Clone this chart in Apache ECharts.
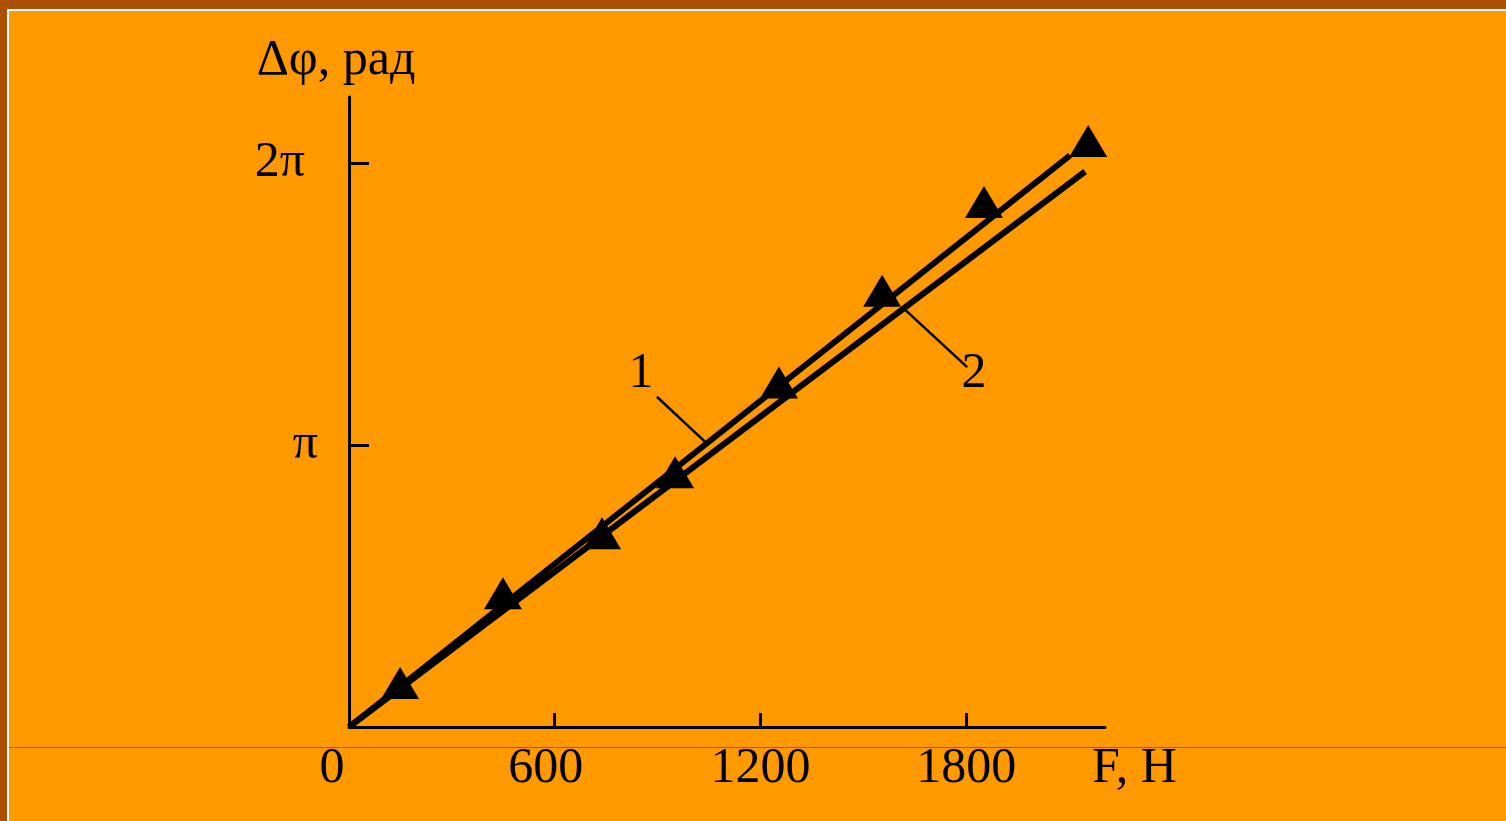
<!DOCTYPE html>
<html>
<head>
<meta charset="utf-8">
<title>Δφ(F)</title>
<script src="https://cdn.jsdelivr.net/npm/echarts@6/dist/echarts.min.js"></script>
<style>
    html, body { margin: 0; padding: 0; width: 1506px; height: 821px; overflow: hidden; background: #ad4f00; }
    .slide { position: absolute; left: 7px; top: 9px; right: -10px; bottom: -10px;
             background: #ff9900; border-left: 2px solid #fff; border-top: 2px solid #fff; }
    .rule { position: absolute; left: 9px; right: 0; top: 747px; height: 1px; background: #bf4f00; }
    #chart { position: absolute; left: 0; top: 0; width: 1506px; height: 821px; }
</style>
</head>
<body>
<div class="slide"></div>
<div class="rule"></div>
<div id="chart"></div>
<script>
// measured points (triangles), F in N, phase in rad
const forceN = [149, 449, 738, 951, 1254, 1555, 1852, 2156];
const phaseRad = [0.49, 1.49, 2.16, 2.84, 3.84, 4.86, 5.85, 6.53];

// straight lines 1 and 2 (start / end)
const line1X = [0, 2103];
const line1Y = [0, 6.37];
const line2X = [0, 2147];
const line2Y = [0, 6.19];

// leader lines for the curve numbers
const leader1 = [[898, 3.68], [1038, 3.18]];
const leader2 = [[1616, 4.67], [1803, 4.01]];
const curveLabels = ['1', '2'];
const curveLabelPos = [[852, 3.93], [1823, 3.93]];

// ticks
const xTicks = [0, 600, 1200, 1800];
const yTicks = [Math.PI, 2 * Math.PI];
const yTickLabels = ['π', '2π'];

const serif = '"Liberation Serif", "Times New Roman", serif';
const fs = 50;
const toPairs = (xs, ys) => xs.map((x, i) => [x, ys[i]]);

const chart = echarts.init(document.getElementById('chart'));
const option = {
    backgroundColor: 'transparent',
    animation: false,
    textStyle: { fontFamily: serif, color: '#000' },
    grid: { left: 349, top: 97, right: 401, bottom: 94, outerBoundsMode: 'none' },
    xAxis: {
        type: 'value', min: 0, max: 2205,
        name: 'F, H', nameLocation: 'end', nameGap: -13,
        nameTextStyle: { fontFamily: serif, fontSize: fs, color: '#000', align: 'left', verticalAlign: 'top', lineHeight: fs, padding: [17, 0, 0, 0] },
        splitLine: { show: false },
        axisLine: { lineStyle: { color: '#000', width: 3 } },
        axisTick: { inside: true, length: 14, lineStyle: { color: '#000', width: 3 }, customValues: xTicks.slice(1) },
        axisLabel: {
            customValues: xTicks, margin: 17, fontFamily: serif, fontSize: fs, color: '#000',
            formatter: v => v === 0 ? '{z|0}' : (v === 600 ? '{s|600}' : String(v)),
            rich: {
                z: { fontFamily: serif, fontSize: fs, padding: [0, 34, 0, 0] },
                s: { fontFamily: serif, fontSize: fs, padding: [0, 18, 0, 0] }
            }
        }
    },
    yAxis: {
        type: 'value', min: 0, max: 7.02,
        name: 'Δφ, рад', nameLocation: 'end', nameGap: 36,
        nameTextStyle: { fontFamily: serif, fontSize: fs, color: '#000', align: 'center', verticalAlign: 'middle', padding: [0, 26, 0, 0] },
        splitLine: { show: false },
        axisLine: { lineStyle: { color: '#000', width: 3 } },
        axisTick: { inside: true, length: 20, lineStyle: { color: '#000', width: 3 }, customValues: yTicks },
        axisLabel: {
            customValues: yTicks, margin: 31, fontFamily: serif, fontSize: fs, color: '#000',
            formatter: v => Math.abs(v - Math.PI) < 1e-6 ? yTickLabels[0] : '{t|' + yTickLabels[1] + '}',
            rich: { t: { fontFamily: serif, fontSize: fs, padding: [0, 13, 0, 0] } }
        }
    },
    series: [
        {
            name: '2', type: 'line', data: toPairs(line2X, line2Y), symbol: 'none',
            lineStyle: { color: '#000', width: 6 },
            markLine: {
                silent: true, symbol: 'none', label: { show: false },
                lineStyle: { color: '#000', width: 2.5, type: 'solid' },
                data: [[{ coord: leader2[0] }, { coord: leader2[1] }]]
            },
            markPoint: {
                symbol: 'circle', symbolSize: 1, itemStyle: { color: 'transparent' },
                label: { show: true, position: 'inside', fontFamily: serif, fontSize: fs, color: '#000' },
                data: [{ coord: curveLabelPos[1], value: curveLabels[1] }]
            }
        },
        {
            name: '1', type: 'line', data: toPairs(line1X, line1Y), symbol: 'none',
            lineStyle: { color: '#000', width: 6 },
            markLine: {
                silent: true, symbol: 'none', label: { show: false },
                lineStyle: { color: '#000', width: 2.5, type: 'solid' },
                data: [[{ coord: leader1[0] }, { coord: leader1[1] }]]
            },
            markPoint: {
                symbol: 'circle', symbolSize: 1, itemStyle: { color: 'transparent' },
                label: { show: true, position: 'inside', fontFamily: serif, fontSize: fs, color: '#000' },
                data: [{ coord: curveLabelPos[0], value: curveLabels[0] }]
            }
        },
        {
            name: 'points', type: 'scatter', data: toPairs(forceN, phaseRad),
            symbol: 'triangle', symbolSize: [38, 32],
            itemStyle: { color: '#000', opacity: 1 }
        }
    ]
};
chart.setOption(option);
window.addEventListener('resize', () => chart.resize());
</script>
</body>
</html>
